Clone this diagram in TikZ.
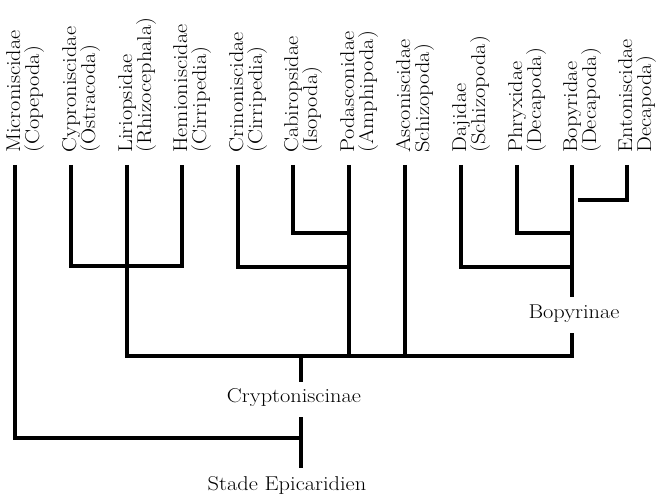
\documentclass[tikz,border=0pt]{standalone}
\usepackage{fontspec}
\newfontfamily\lblfont{Latin Modern Roman}[FakeStretch=1.12]
\begin{document}
\begin{tikzpicture}[x=1pt,y=-1pt,
  lbl/.style={rotate=90,anchor=base west,inner sep=0pt,font=\lblfont\fontsize{20}{20}\selectfont},
  clade/.style={anchor=base,inner sep=0pt,font=\lblfont\fontsize{20}{20}\selectfont},
  tree/.style={line width=4.3pt,line join=miter,line cap=butt}]
\useasboundingbox (0,0) rectangle (658,497);
\foreach \n/\x/\nm/\grp in {
  mic/15/Microniscidae/(Copepoda),
  cyp/71/Cyproniscidae/(Ostracoda),
  lir/127/Liriopsidae/(Rhizocephala),
  hem/182/Hemioniscidae/(Cirripedia),
  cri/238/Crinoniscidae/(Cirripedia),
  cab/293/Cabiropsidae/(Isopoda),
  pod/349/Podasconidae/(Amphipoda),
  asc/405/Asconiscidae/Schizopoda),
  daj/461/Dajidae/(Schizopoda),
  phr/517/Phryxidae/(Decapoda),
  bop/572/Bopyridae/(Decapoda),
  ent/627/Entoniscidae/Decapoda)}{
  \coordinate (\n) at (\x,165);
  \node[lbl] (\n-name) at (\x+5,153) {\nm};
  \node[lbl] (\n-grp) at (\x+24,153) {\grp};
}
% inner junction points
\coordinate (jcyp) at (71,266);
\coordinate (jhem) at (182,266);
\coordinate (jcri) at (238,267);
\coordinate (jcab) at (293,233);
\coordinate (jpod1) at (349,233);
\coordinate (jpod2) at (349,267);
\coordinate (jdaj) at (461,267);
\coordinate (jphr) at (517,233);
\coordinate (jbop1) at (570,233);
\coordinate (jbop2) at (570,267);
\coordinate (jent) at (627,200);
\coordinate (jbop3) at (578,200);
\coordinate (bopgapA) at (572,297);
\coordinate (bopgapB) at (572,333);
\coordinate (mainL) at (127,356);
\coordinate (mainR) at (572,356);
\coordinate (crypT) at (301,356);
\coordinate (crypB) at (301,382);
\coordinate (micB) at (15,438);
\coordinate (rootR) at (301,438);
\coordinate (stadeT) at (301,417);
\coordinate (stadeB) at (301,468);

\draw[tree] (cyp) -- (jcyp) -- (jhem) -- (hem);
\draw[tree] (cri) -- (jcri) -- (jpod2);
\draw[tree] (cab) -- (jcab) -- (jpod1);
\draw[tree] (daj) -- (jdaj) -- (jbop2);
\draw[tree] (phr) -- (jphr) -- (jbop1);
\draw[tree] (ent) -- (jent) -- (jbop3);
\draw[tree] (bop) -- (bopgapA);
\draw[tree] (lir) -- (mainL) -- (mainR) -- (bopgapB);
\draw[tree] (pod) -- (pod |- mainL);
\draw[tree] (asc) -- (asc |- mainL);
\draw[tree] (crypT) -- (crypB);
\draw[tree] (mic) -- (micB) -- (rootR);
\draw[tree] (stadeT) -- (stadeB);

\node[clade] (bopyrinae) at (574,318) {Bopyrinae};
\node[clade] (cryptoniscinae) at (294,402) {Cryptoniscinae};
\node[clade] (stade) at (287,490) {Stade Epicaridien};
\end{tikzpicture}
\end{document}
